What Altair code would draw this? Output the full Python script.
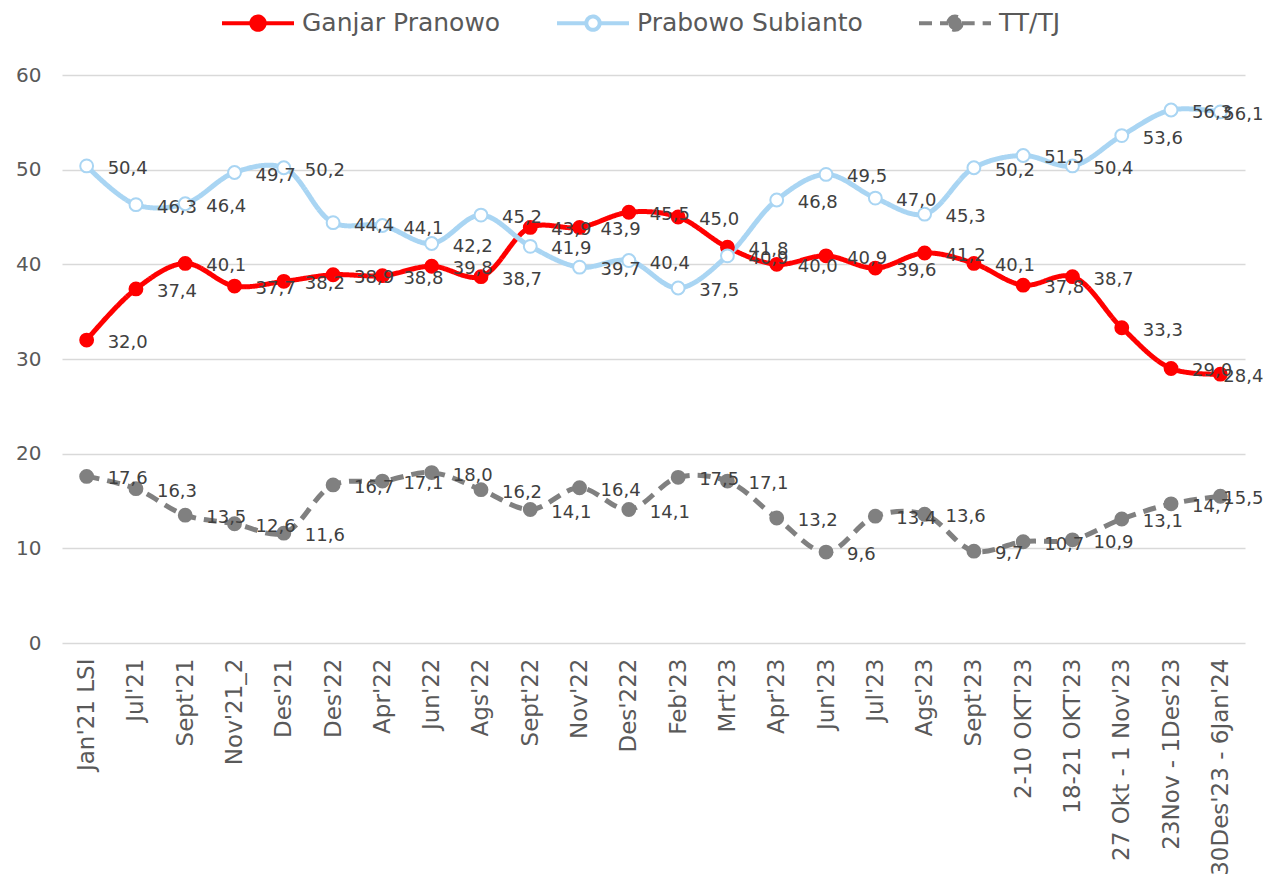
import altair as alt
import pandas as pd

categories = ["Jan'21 LSI", "Jul'21", "Sept'21", "Nov'21_2", "Des'21", "Des'22", "Apr'22",
              "Jun'22", "Ags'22", "Sept'22", "Nov'22", "Des'222", "Feb'23", "Mrt'23",
              "Apr'23", "Jun'23", "Jul'23", "Ags'23", "Sept'23", "2-10 OKT'23",
              "18-21 OKT'23", "27 Okt - 1 Nov'23", "23Nov - 1Des'23", "30Des'23 - 6Jan'24"]
ganjar = [32.0, 37.4, 40.1, 37.7, 38.2, 38.9, 38.8, 39.8, 38.7, 43.9, 43.9, 45.5, 45.0, 41.8,
          40.0, 40.9, 39.6, 41.2, 40.1, 37.8, 38.7, 33.3, 29.0, 28.4]
prabowo = [50.4, 46.3, 46.4, 49.7, 50.2, 44.4, 44.1, 42.2, 45.2, 41.9, 39.7, 40.4, 37.5, 40.9,
           46.8, 49.5, 47.0, 45.3, 50.2, 51.5, 50.4, 53.6, 56.3, 56.1]
tttj = [17.6, 16.3, 13.5, 12.6, 11.6, 16.7, 17.1, 18.0, 16.2, 14.1, 16.4, 14.1, 17.5, 17.1,
        13.2, 9.6, 13.4, 13.6, 9.7, 10.7, 10.9, 13.1, 14.7, 15.5]
series_names = ["Ganjar Pranowo", "Prabowo Subianto", "TT/TJ"]
y_ticks = [0, 10, 20, 30, 40, 50, 60]

rows = []
for name, vals in zip(series_names, [ganjar, prabowo, tttj]):
    for c, v in zip(categories, vals):
        rows.append({"cat": c, "val": v, "series": name,
                     "label": f"{v:.1f}".replace(".", ",")})
df = pd.DataFrame(rows)
last_cat = categories[-1]

FONT = "DejaVu Sans"
stroke_range = ["#FF0000", "#A9D5F3", "#808080"]
fill_range = ["#FF0000", "#FFFFFF", "#808080"]
dash_range = [[1, 0], [1, 0], [13, 8]]

legend_path = ("M-1,0H0.63M1.37,0H3M1.37,0A0.37,0.37 0 1,1 0.63,0"
               "A0.37,0.37 0 1,1 1.37,0")

legend = alt.Legend(title=None, orient="none", legendX=158, legendY=-72,
                    direction="horizontal", symbolType=legend_path, symbolSize=1296,
                    symbolStrokeWidth=4, labelFont=FONT, labelFontSize=25,
                    labelColor="#595959", labelOffset=42, columnPadding=48,
                    labelLimit=400)

x = alt.X("cat:N", sort=categories, title=None,
          axis=alt.Axis(labelAngle=-90, labelFont=FONT, labelFontSize=23,
                        labelColor="#595959", ticks=False, domain=False, grid=False,
                        labelPadding=15, labelLimit=400))
y = alt.Y("val:Q", title=None, scale=alt.Scale(domain=[0, 60], nice=False),
          axis=alt.Axis(values=y_ticks, labelFont=FONT, labelFontSize=20,
                        labelColor="#595959", ticks=False, domain=False,
                        gridColor="#D9D9D9", gridWidth=1.5, labelPadding=21))

stroke = alt.Stroke("series:N", sort=series_names,
                    scale=alt.Scale(domain=series_names, range=stroke_range), legend=legend)
fill = alt.Fill("series:N", sort=series_names,
                scale=alt.Scale(domain=series_names, range=fill_range), legend=legend)
dash = alt.StrokeDash("series:N", sort=series_names,
                      scale=alt.Scale(domain=series_names, range=dash_range), legend=legend)

base = alt.Chart(df)
lines = base.mark_line(strokeWidth=5, interpolate="catmull-rom").encode(
    x=x, y=y, stroke=stroke, strokeDash=dash)
points = base.mark_circle(size=165, strokeWidth=2, opacity=1).encode(
    x=x, y=y, stroke=stroke, fill=fill)
labels = base.transform_filter(alt.datum.cat != last_cat).mark_text(
    align="left", baseline="middle", dx=21, dy=3, font=FONT,
    fontSize=18, color="#404040").encode(x=x, y=y, text="label:N")
labels_last = base.transform_filter(alt.datum.cat == last_cat).mark_text(
    align="left", baseline="middle", dx=3, dy=3, font=FONT,
    fontSize=18, color="#404040").encode(x=x, y=y, text="label:N")

chart = alt.layer(lines, points, labels, labels_last).properties(
    width=1183, height=568,
    autosize=alt.AutoSizeParams(type="none"),
    padding={"left": 54, "top": 67, "right": 18, "bottom": 241},
).configure_view(stroke=None)

chart.save("out.html", embed_options={"renderer": "svg", "actions": False})
